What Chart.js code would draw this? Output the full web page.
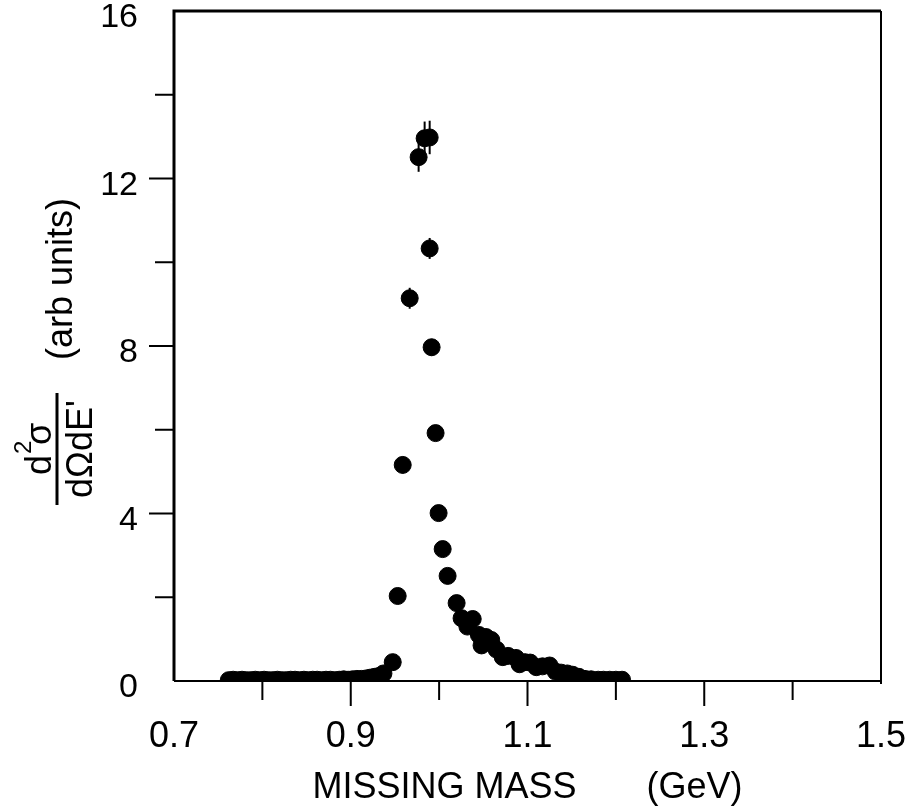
<!DOCTYPE html>
<html>
<head>
<meta charset="utf-8">
<script src="https://cdn.jsdelivr.net/npm/chart.js@4.4.1/dist/chart.umd.min.js"></script>
<style>
  html, body { margin: 0; padding: 0; background: #fff; }
  canvas { display: block; }
</style>
</head>
<body>
<canvas id="chart" width="908" height="808"></canvas>
<script>
// missing mass (GeV) and cross section (arb units)
const massGeV = [
  0.762, 0.767, 0.772, 0.777, 0.782, 0.787, 0.792, 0.797, 0.802, 0.807,
  0.812, 0.817, 0.822, 0.827, 0.832, 0.837, 0.842, 0.847, 0.852, 0.857,
  0.862, 0.867, 0.872, 0.877, 0.882, 0.887, 0.892, 0.897, 0.902, 0.907,
  0.912, 0.917, 0.922, 0.927, 0.932, 0.937, 0.9475, 0.9531, 0.9588, 0.9667,
  0.9768, 0.9836, 0.9893, 0.9893, 0.9915, 0.996, 0.9994, 1.004, 1.0096, 1.0198,
  1.0254, 1.032, 1.038, 1.045, 1.048, 1.053, 1.059, 1.065, 1.072, 1.078,
  1.087, 1.091, 1.097, 1.103, 1.110, 1.117, 1.125, 1.132, 1.138, 1.145,
  1.151, 1.158, 1.165, 1.172, 1.180, 1.186, 1.193, 1.200, 1.207
];
const crossSection = [
  0.02, 0.03, 0.02, 0.03, 0.02, 0.02, 0.03, 0.02, 0.03, 0.02,
  0.02, 0.03, 0.02, 0.02, 0.03, 0.03, 0.02, 0.03, 0.02, 0.03,
  0.03, 0.02, 0.03, 0.03, 0.02, 0.03, 0.04, 0.03, 0.04, 0.05,
  0.05, 0.06, 0.08, 0.10, 0.12, 0.18, 0.45, 2.03, 5.16, 9.14,
  12.51, 12.96, 12.98, 10.33, 7.97, 5.92, 4.01, 3.15, 2.51, 1.86,
  1.50, 1.30, 1.48, 1.10, 0.85, 1.05, 0.98, 0.75, 0.57, 0.60,
  0.55, 0.40, 0.45, 0.44, 0.33, 0.35, 0.37, 0.22, 0.20, 0.18,
  0.15, 0.10, 0.05, 0.04, 0.03, 0.03, 0.03, 0.03, 0.03
];
// vertical error bars (only visible around the peak)
const crossSectionErr = [
  0, 0, 0, 0, 0, 0, 0, 0, 0, 0,
  0, 0, 0, 0, 0, 0, 0, 0, 0, 0,
  0, 0, 0, 0, 0, 0, 0, 0, 0, 0,
  0, 0, 0, 0, 0, 0, 0, 0, 0.2, 0.25,
  0.35, 0.4, 0.4, 0.25, 0.2, 0.15, 0, 0, 0, 0,
  0, 0, 0, 0, 0, 0, 0, 0, 0, 0,
  0, 0, 0, 0, 0, 0, 0, 0, 0, 0,
  0, 0, 0, 0, 0, 0, 0, 0, 0
];

const xTicks = [0.7, 0.9, 1.1, 1.3, 1.5];
const xMinorTicks = [0.8, 1.0, 1.2, 1.4];
const yTicks = [0, 4, 8, 12, 16];
const yMinorTicks = [2, 6, 10, 14];

const FONT = '"Liberation Sans", Arial, Helvetica, sans-serif';

const points = massGeV.map((m, i) => ({ x: m, y: crossSection[i] }));

// frame, tick marks, error bars and the y axis title
const decorations = {
  id: 'decorations',
  beforeDatasetsDraw(chart) {
    const { ctx, scales: { x, y } } = chart;
    ctx.save();
    ctx.strokeStyle = '#000';
    ctx.lineWidth = 2;
    crossSectionErr.forEach((e, i) => {
      if (!e) return;
      const px = x.getPixelForValue(massGeV[i]);
      ctx.beginPath();
      ctx.moveTo(px, y.getPixelForValue(crossSection[i] - e));
      ctx.lineTo(px, y.getPixelForValue(crossSection[i] + e));
      ctx.stroke();
    });
    ctx.restore();
  },
  afterDraw(chart) {
    const { ctx, chartArea: a, scales: { x, y } } = chart;
    ctx.save();
    ctx.strokeStyle = '#000';
    ctx.lineCap = 'butt';

    // box
    ctx.lineWidth = 3;
    ctx.beginPath();
    ctx.moveTo(a.left, a.bottom);
    ctx.lineTo(a.left, a.top);
    ctx.lineTo(a.right, a.top);
    ctx.stroke();
    ctx.lineWidth = 2;
    ctx.beginPath();
    ctx.moveTo(a.left, a.bottom);
    ctx.lineTo(a.right, a.bottom);
    ctx.moveTo(a.right, a.top);
    ctx.lineTo(a.right, a.bottom + 3);
    ctx.stroke();

    // y ticks, pointing outwards
    ctx.lineWidth = 2;
    ctx.beginPath();
    yTicks.slice(1, -1).forEach(v => {
      const py = y.getPixelForValue(v);
      ctx.moveTo(a.left - 25, py);
      ctx.lineTo(a.left, py);
    });
    yMinorTicks.forEach(v => {
      const py = y.getPixelForValue(v);
      ctx.moveTo(a.left - 19, py);
      ctx.lineTo(a.left, py);
    });
    // x ticks, pointing down
    xTicks.slice(1, -1).forEach(v => {
      const px = x.getPixelForValue(v);
      ctx.moveTo(px, a.bottom);
      ctx.lineTo(px, a.bottom + 25);
    });
    xMinorTicks.forEach(v => {
      const px = x.getPixelForValue(v);
      ctx.moveTo(px, a.bottom);
      ctx.lineTo(px, a.bottom + 19);
    });
    ctx.stroke();

    // y axis title: "(arb units)" and the d2sigma / dOmega dE' fraction
    ctx.fillStyle = '#000';
    ctx.textAlign = 'center';
    ctx.textBaseline = 'middle';
    ctx.save();
    ctx.translate(62, 279);
    ctx.rotate(-Math.PI / 2);
    ctx.font = '36px ' + FONT;
    ctx.fillText('(arb units)', 0, 0);
    ctx.restore();

    ctx.save();
    ctx.translate(57, 449);
    ctx.rotate(-Math.PI / 2);
    ctx.lineWidth = 3;
    ctx.beginPath();
    ctx.moveTo(-56, 0);
    ctx.lineTo(56, 0);
    ctx.stroke();
    ctx.font = '36px ' + FONT;
    ctx.textBaseline = 'alphabetic';
    ctx.fillText('dΩdE\'', 0, 35);
    ctx.textAlign = 'left';
    const dW = ctx.measureText('d').width;
    const sW = ctx.measureText('σ').width;
    const start = -(dW + 10 + sW) / 2;
    ctx.fillText('d', start, -6);
    ctx.fillText('σ', start + dW + 10, -6);
    ctx.font = '24px ' + FONT;
    ctx.fillText('2', start + dW + 1, -26);
    ctx.restore();

    ctx.restore();
  }
};

new Chart(document.getElementById('chart'), {
  type: 'scatter',
  data: {
    datasets: [{
      data: points,
      backgroundColor: '#000',
      borderColor: '#000',
      borderWidth: 1,
      pointRadius: 8.5,
      pointHoverRadius: 8.5
    }]
  },
  options: {
    responsive: false,
    animation: false,
    events: [],
    layout: { padding: { top: 11, right: 27, left: 0, bottom: 0 } },
    plugins: { legend: { display: false }, tooltip: { enabled: false } },
    scales: {
      x: {
        type: 'linear',
        min: 0.7,
        max: 1.5,
        border: { display: false },
        grid: { display: false, drawTicks: false },
        afterBuildTicks: s => { s.ticks = xTicks.map(v => ({ value: v })); },
        afterFit: s => {
          s.height = 127;
          s.paddingLeft = 0;
          s.paddingRight = 0;
        },
        ticks: {
          color: '#000',
          font: { family: FONT, size: 36 },
          padding: 34,
          maxRotation: 0,
          autoSkip: false,
          callback: v => v.toFixed(1)
        },
        title: {
          display: true,
          text: 'MISSING MASS       (GeV)',
          color: '#000',
          font: { family: FONT, size: 36 },
          padding: { top: 0, bottom: -2 }
        }
      },
      y: {
        type: 'linear',
        min: 0,
        max: 16,
        border: { display: false },
        grid: { display: false, drawTicks: false },
        afterBuildTicks: s => { s.ticks = yTicks.map(v => ({ value: v })); },
        afterFit: s => {
          s.width = 174;
          s.paddingTop = 0;
          s.paddingBottom = 0;
        },
        ticks: {
          color: '#000',
          font: { family: FONT, size: 34 },
          padding: 36,
          labelOffset: 7,
          autoSkip: false
        }
      }
    }
  },
  plugins: [decorations]
});
</script>
</body>
</html>
